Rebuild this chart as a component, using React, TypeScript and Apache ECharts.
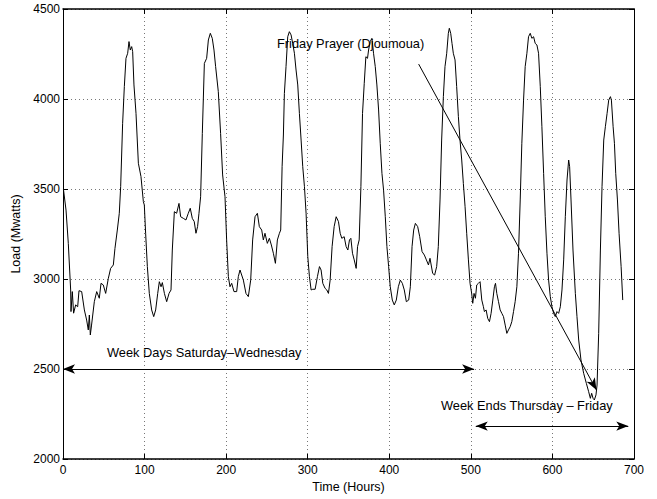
import React, { useEffect, useRef } from "react";
import * as echarts from "echarts";

// Hourly load readings (hours, MW)
const hours = [
  0.5, 3.7, 6.5, 9.4, 9.8, 11.4, 13, 15.5, 18, 19.6, 22.9, 26.2, 29, 31, 32.3, 33.5, 35, 38.4, 41.3, 44.5,
  46.6, 49.4, 52.3, 55.6, 58.4, 61.7, 63.7, 66.6, 69, 70.7, 73.1, 75.2, 77.2, 79.3, 80.9, 82.5, 84.2, 85.4, 87, 89.5,
  92.4, 95.6, 98.5, 99.7, 101.3, 103.4, 105.8, 108.7, 111.2, 113.6, 116.1, 118.1, 120.2, 121.8, 124.3, 127.1, 130, 132.4, 134, 136.5,
  139.3, 142.2, 144.2, 147.5, 150.7, 153.6, 156, 158.5, 160.9, 163, 165, 166.7, 168.7, 170.8, 173.3, 176.1, 178.2, 180.6, 183, 185.1,
  187.1, 190.4, 193.2, 195.7, 198.6, 200.6, 202.7, 204.7, 206.8, 209.6, 212.9, 214.9, 217, 221.1, 224.3, 227.2, 230.1, 232.5, 235.4, 238.3,
  240.7, 243.6, 245.6, 247.6, 250.5, 253, 255.4, 257.9, 260.4, 262.8, 265.3, 266.9, 268.6, 270.2, 271.4, 273.4, 275.5, 277.5, 279.6, 281.6,
  283.7, 285.7, 287.8, 289.8, 291.9, 293.9, 296, 298, 300.1, 302.1, 304.2, 306.2, 309.1, 311.9, 314.4, 316.4, 318.5, 321.3, 323.4, 325.4,
  327.5, 329.9, 332.4, 334.9, 337.7, 339.8, 341.8, 344.7, 347.1, 349.2, 351.2, 352.9, 354.9, 357, 359.4, 361.1, 363.1, 365.2, 367.2, 369.3,
  371.3, 373.3, 374.6, 376.6, 378.7, 380.7, 382.8, 384.8, 386.9, 388.9, 391, 393, 395.1, 397.1, 399.2, 401.2, 403.7, 406.1, 408.6, 411.1,
  413.5, 416, 418.4, 420.9, 423.8, 425.8, 427.9, 429.9, 432, 434.8, 437.3, 440.2, 443, 445.5, 448, 449.9, 453.2, 455.6, 458.1, 460.1,
  462.2, 464.2, 466.3, 468.3, 470.4, 472.4, 473.6, 475.3, 476.9, 478.5, 480.6, 482.6, 484.7, 486.7, 488.8, 490.8, 492.9, 494.9, 497, 499,
  501, 502.3, 503.9, 505.6, 507.2, 509.3, 511.3, 513.4, 515.4, 516.6, 518.7, 520.7, 522.8, 524.8, 526.9, 528.9, 530.2, 531.8, 533.9, 535.9,
  538, 540, 542.1, 544.1, 546.1, 548.2, 550.2, 552.3, 554.3, 556.4, 558.4, 560.5, 562.5, 564.6, 566.6, 568.7, 570.7, 572.8, 574.8, 576.9,
  578.9, 581, 583, 585.1, 587.1, 589.2, 591.2, 593.3, 595.3, 597.4, 599.4, 601.5, 603.5, 605.6, 607.6, 609.7, 611.7, 613.8, 615.8, 617.9,
  619.9, 621.1, 622.8, 625.2, 628.1, 630.1, 632.2, 635, 638.3, 641.6, 644.4, 646.5, 648.1, 649.8, 651.4, 653.4, 654.7, 656.7, 658.8, 660.8,
  662.9, 664.9, 667, 669, 671.1, 672.3, 674.4, 676, 677.6, 679.7, 681.7, 684.2, 686.2,
];
const loads = [
  3500, 3383, 3198, 2939, 2819, 2930, 2810, 2856, 2846, 2935, 2930, 2828, 2772, 2717, 2800, 2689, 2744, 2874, 2930, 2893,
  2976, 2967, 2920, 3004, 3059, 3078, 3170, 3272, 3365, 3513, 3865, 4069, 4226, 4254, 4319, 4272, 4291, 4263, 4078, 3920,
  3643, 3569, 3430, 3411, 3254, 3069, 2920, 2828, 2791, 2828, 2920, 2985, 2957, 2980, 2920, 2874, 2920, 2939, 3161, 3374,
  3365, 3420, 3346, 3337, 3328, 3365, 3393, 3337, 3319, 3254, 3291, 3365, 3457, 3809, 4198, 4226, 4328, 4365, 4337, 4272,
  4180, 4041, 3809, 3578, 3457, 3217, 3013, 2957, 2976, 2930, 2930, 3013, 3050, 2994, 2920, 2902, 2994, 3217, 3346, 3365,
  3291, 3272, 3217, 3254, 3198, 3226, 3189, 3143, 3087, 3217, 3254, 3272, 3624, 3800, 4031, 4180, 4346, 4374, 4356, 4309,
  4254, 4161, 4078, 3920, 3772, 3624, 3513, 3365, 3124, 3013, 2939, 2943, 2943, 3013, 3069, 3050, 2976, 2948, 2939, 2920,
  2994, 3180, 3291, 3346, 3319, 3254, 3226, 3235, 3180, 3161, 3217, 3226, 3143, 3106, 3059, 3180, 3217, 3513, 3920, 4087,
  4235, 4226, 4272, 4319, 4337, 4254, 4180, 4078, 3939, 3754, 3587, 3494, 3346, 3180, 3069, 2957, 2883, 2856, 2883, 2957,
  2994, 2976, 2939, 2874, 2883, 2957, 3180, 3272, 3309, 3291, 3235, 3152, 3133, 3106, 3078, 3115, 3031, 3022, 3069, 3180,
  3439, 3772, 4013, 4180, 4254, 4365, 4393, 4365, 4309, 4254, 4217, 4069, 3902, 3772, 3661, 3531, 3402, 3254, 3106, 2976,
  2920, 2865, 2920, 2893, 2967, 2976, 2985, 2883, 2846, 2819, 2828, 2781, 2763, 2809, 2883, 2957, 2976, 2920, 2874, 2828,
  2809, 2791, 2744, 2698, 2717, 2735, 2763, 2819, 2874, 2957, 3143, 3439, 3754, 3994, 4180, 4254, 4346, 4365, 4337, 4346,
  4309, 4300, 4254, 4069, 3846, 3587, 3346, 3143, 2994, 2902, 2846, 2809, 2791, 2819, 2809, 2846, 2939, 3106, 3346, 3550,
  3661, 3624, 3439, 3161, 2920, 2791, 2661, 2550, 2476, 2420, 2374, 2337, 2365, 2337, 2328, 2356, 2411, 2698, 3161, 3513,
  3772, 3846, 3920, 3994, 4013, 3994, 3846, 3754, 3587, 3439, 3254, 3069, 2883,
];

// Annotation arrows in data coordinates: [x0, y0, x1, y1]
const weekDaysArrow = [0, 2500, 504, 2500];
const weekEndsArrow = [506, 2183, 693, 2183];
const prayerArrow = [436, 4194, 654, 2383];

const xTicks = { min: 0, max: 700, interval: 100 };
const yTicks = { min: 2000, max: 4500, interval: 500 };

const FONT = "'Liberation Sans', Arial, Helvetica, sans-serif";

export default function App() {
  const ref = useRef<HTMLDivElement>(null);
  useEffect(() => {
    const chart = echarts.init(ref.current!, null, { renderer: "svg" });
    const axisLine = (w: number) => ({ show: true, onZero: false, lineStyle: { color: "#000", width: w } });
    const tick = { show: true, inside: true, length: 5, lineStyle: { color: "#000", width: 1 } };
    const split = { show: true, lineStyle: { color: "#777", type: [1, 3], width: 1 } };
    const lbl = { color: "#000", fontSize: 12, fontFamily: FONT };
    const plain = (v: number) => String(v);
    const seg = (a: number[]) => [{ coord: [a[0], a[1]] }, { coord: [a[2], a[3]] }];
    chart.setOption({
      animation: false,
      backgroundColor: "#fff",
      grid: { left: 63, right: 23, top: 9, bottom: 40, containLabel: false },
      xAxis: [
        {
          type: "value", ...xTicks, position: "bottom",
          axisLine: axisLine(1.5), axisTick: tick, splitLine: split,
          axisLabel: { ...lbl, margin: 5, formatter: plain },
          name: "Time (Hours)", nameLocation: "middle", nameGap: 19,
          nameTextStyle: { ...lbl, fontSize: 12.5 },
        },
        {
          type: "value", ...xTicks, position: "top",
          axisLine: axisLine(1.5), axisTick: tick, splitLine: { show: false },
          axisLabel: { show: false },
        },
      ],
      yAxis: [
        {
          type: "value", ...yTicks, position: "left",
          axisLine: axisLine(1), axisTick: tick, splitLine: split,
          axisLabel: { ...lbl, margin: 3, formatter: plain },
          name: "Load (Mwatts)", nameLocation: "middle", nameGap: 37, nameRotate: 90,
          nameTextStyle: { ...lbl, fontSize: 12.5 },
        },
        {
          type: "value", ...yTicks, position: "right",
          axisLine: axisLine(1), axisTick: tick, splitLine: { show: false },
          axisLabel: { show: false },
        },
      ],
      series: [
        {
          type: "line",
          xAxisIndex: 0, yAxisIndex: 0,
          data: hours.map((h, i) => [h, loads[i]]),
          showSymbol: false,
          symbol: "none",
          lineStyle: { color: "#000", width: 1 },
          silent: true,
          markLine: {
            silent: true,
            animation: false,
            symbol: ["arrow", "arrow"],
            symbolSize: [7, 12],
            label: { show: false },
            lineStyle: { color: "#000", width: 1, type: "solid" },
            emphasis: { disabled: true },
            data: [
              seg(weekDaysArrow),
              seg(weekEndsArrow),
              [
                { coord: [prayerArrow[0], prayerArrow[1]], symbol: "none" },
                { coord: [prayerArrow[2], prayerArrow[3]], symbol: "arrow" },
              ],
            ],
          },
        },
      ],
      graphic: [
        { type: "text", left: 277, top: 37, style: { text: "Friday Prayer (Djoumoua)", fill: "#000", font: `12.8px ${FONT}` } },
        { type: "text", left: 107, top: 346, style: { text: "Week Days Saturday\u2013Wednesday", fill: "#000", font: `12.8px ${FONT}` } },
        { type: "text", left: 441, top: 399, style: { text: "Week Ends Thursday \u2013 Friday", fill: "#000", font: `12.8px ${FONT}` } },
      ],
    });
    return () => chart.dispose();
  }, []);
  return (
    <div
      ref={ref}
      style={{ position: "absolute", left: 0, top: 0, width: 657, height: 499, background: "#fff" }}
    />
  );
}
